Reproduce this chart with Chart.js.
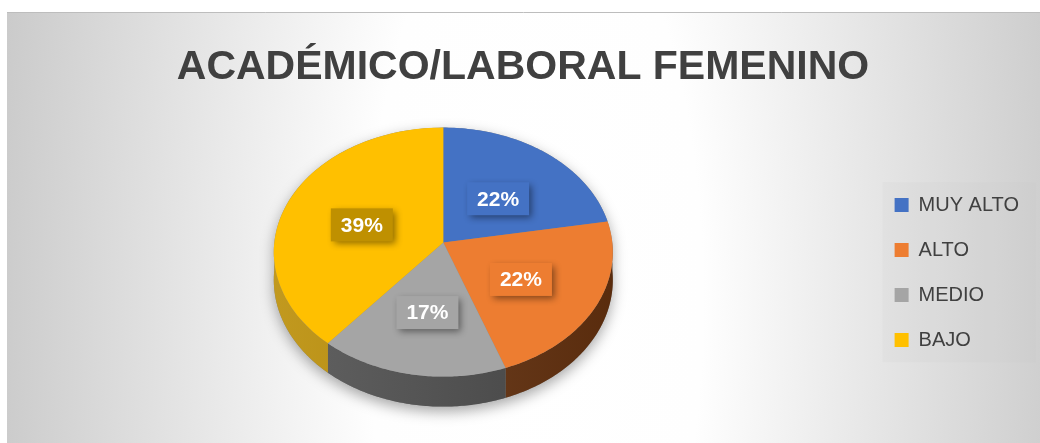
<!DOCTYPE html>
<html>
<head>
<meta charset="utf-8">
<script src="https://cdn.jsdelivr.net/npm/chart.js@4.4.1/dist/chart.umd.min.js"></script>
<style>
html,body{margin:0;padding:0;background:#fff;}
canvas{display:block;}
</style>
</head>
<body>
<canvas id="chart" width="1040" height="443"></canvas>
<script>
/* Data */
const categories=["MUY ALTO","ALTO","MEDIO","BAJO"];
const values=[4,4,3,7];
const sliceColors=["#4472c4","#ed7d31","#a5a5a5","#ffc000"];
const sideColors=["#2f5597","#66320f","#4c4c4c","#b98b00"];
const boxColors=["#4472c4","#ed7d31","#a5a5a5","#bf9000"];

/* 3D look */
const RX=169, RY=123.8, P=0.0763, DEPTH=27.7, PIE_DY=-30;

function proj(c,a,r,d){
const u=Math.cos(a)*r, v=Math.sin(a)*r;
const f=1/(1-P*v);
return [c.x+u*RX*f, c.y+v*RY*f+d*f];
}

const background={
id:"background",
beforeDraw(chart){
const ctx=chart.ctx;
ctx.save();
ctx.fillStyle="#fff";
ctx.fillRect(0,0,chart.width,chart.height);
ctx.translate(535,300);
ctx.scale(1,2.6);
const g=ctx.createRadialGradient(0,0,0,0,0,560);
g.addColorStop(0,"#ffffff");
g.addColorStop(0.3,"#fefefe");
g.addColorStop(1,"#c8c8c8");
ctx.fillStyle=g;
ctx.fillRect(-535+7,(12-300)/2.6,1040,(443-12)/2.6);
ctx.restore();
ctx.save();
ctx.strokeStyle="#bdbdbd";
ctx.beginPath();
ctx.moveTo(7,12.5);ctx.lineTo(1040,12.5);
ctx.stroke();
/* legend panel */
const hb=chart.legend.legendHitBoxes;
if(hb && hb.length){
const top=hb[0].top-13;
const bottom=hb[hb.length-1].top+hb[hb.length-1].height+12;
ctx.fillStyle="rgba(200,200,200,0.12)";
ctx.fillRect(hb[0].left-12,top,1036-(hb[0].left-12),bottom-top);
}
ctx.restore();
}
};

const pie3d={
id:"pie3d",
beforeDatasetsDraw(chart){
const ctx=chart.ctx;
const arcs=chart.getDatasetMeta(0).data;
const c={x:arcs[0].x,y:arcs[0].y+PIE_DY};
const N=80;

/* shadow under the pie */
ctx.save();
ctx.beginPath();
for(let i=0;i<=N;i++){
const p=proj(c,Math.PI+Math.PI*i/N,1,0);
i?ctx.lineTo(p[0],p[1]):ctx.moveTo(p[0],p[1]);
}
for(let i=0;i<=N;i++){
const p=proj(c,Math.PI*i/N,1,DEPTH);
ctx.lineTo(p[0],p[1]);
}
ctx.closePath();
ctx.shadowColor="rgba(0,0,0,0.35)";
ctx.shadowBlur=14;
ctx.shadowOffsetY=5;
ctx.fillStyle="#888";
ctx.fill();
ctx.restore();

/* side walls */
arcs.forEach((arc,i)=>{
const s=Math.max(arc.startAngle,0);
const e=Math.min(arc.endAngle,Math.PI);
if(e<=s) return;
ctx.save();
ctx.beginPath();
for(let k=0;k<=N;k++){
const p=proj(c,s+(e-s)*k/N,1,0);
k?ctx.lineTo(p[0],p[1]):ctx.moveTo(p[0],p[1]);
}
for(let k=N;k>=0;k--){
const p=proj(c,s+(e-s)*k/N,1,DEPTH);
ctx.lineTo(p[0],p[1]);
}
ctx.closePath();
ctx.fillStyle=sideColors[i];
ctx.fill();
const sh=ctx.createLinearGradient(c.x-RX,0,c.x+RX,0);
sh.addColorStop(0,"rgba(255,255,255,0.12)");
sh.addColorStop(1,"rgba(0,0,0,0.12)");
ctx.fillStyle=sh;
ctx.fill();
ctx.restore();
});

/* top faces */
arcs.forEach((arc,i)=>{
ctx.save();
ctx.beginPath();
ctx.moveTo(c.x,c.y);
for(let k=0;k<=N;k++){
const p=proj(c,arc.startAngle+(arc.endAngle-arc.startAngle)*k/N,1,0);
ctx.lineTo(p[0],p[1]);
}
ctx.closePath();
ctx.fillStyle=sliceColors[i];
ctx.fill();
ctx.restore();
});

/* data labels */
const total=values.reduce((a,b)=>a+b,0);
ctx.save();
ctx.font="bold 21px 'Liberation Sans'";
ctx.textAlign="center";
ctx.textBaseline="middle";
arcs.forEach((arc,i)=>{
const mid=(arc.startAngle+arc.endAngle)/2;
const p=proj(c,mid,0.52,0);
const x=p[0], y=p[1]+4;
const txt=Math.round(values[i]/total*100)+"%";
const w=62,h=33;
ctx.save();
ctx.shadowColor="rgba(0,0,0,0.45)";
ctx.shadowBlur=7;
ctx.shadowOffsetX=3;
ctx.shadowOffsetY=3;
ctx.fillStyle=boxColors[i];
ctx.fillRect(x-w/2,y-h/2,w,h);
ctx.restore();
ctx.fillStyle="#fff";
ctx.fillText(txt,x,y+1);
});
ctx.restore();
return false;
}
};

Chart.defaults.font.family="'Liberation Sans', Arial, sans-serif";

const chart=new Chart(document.getElementById("chart"),{
type:"pie",
data:{
labels:categories,
datasets:[{
data:values,
backgroundColor:sliceColors,
borderWidth:0
}]
},
options:{
responsive:false,
devicePixelRatio:1,
animation:false,
events:[],
layout:{
padding:{left:17,right:11,top:0,bottom:8}
},
plugins:{
title:{
display:true,
text:"ACADÉMICO/LABORAL FEMENINO",
color:"#404040",
font:{family:"'Liberation Sans', sans-serif",weight:"bold",size:41},
padding:{top:43,bottom:18}
},
legend:{
display:true,
position:"right",
fullSize:false,
labels:{
color:"#404040",
font:{size:20},
boxWidth:14,
boxHeight:14,
padding:25
}
},
tooltip:{enabled:false}
}
},
plugins:[background,pie3d]
});
</script>
</body>
</html>
